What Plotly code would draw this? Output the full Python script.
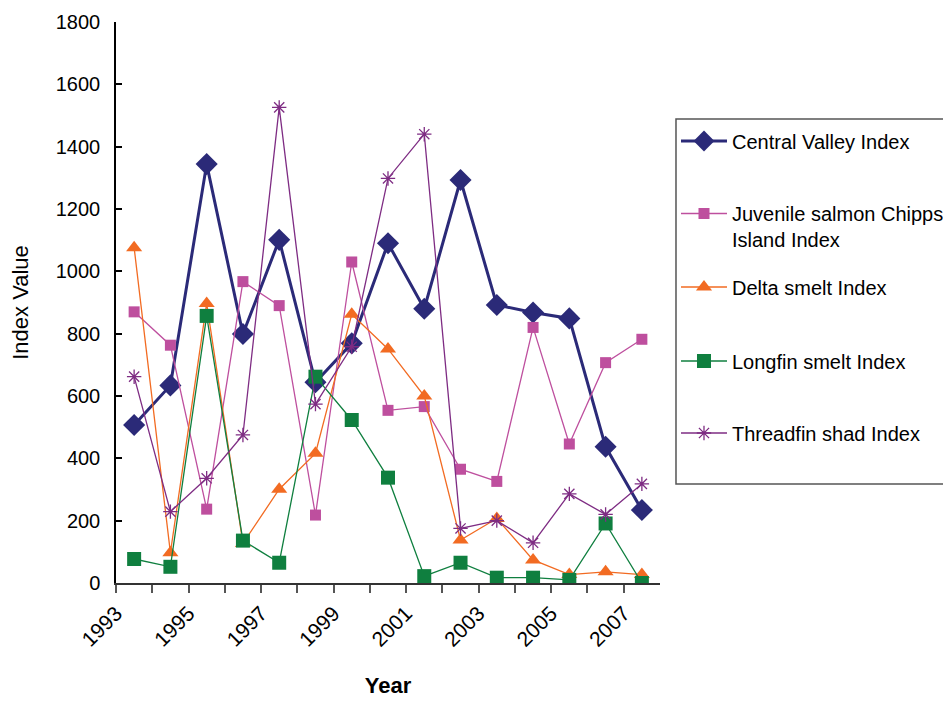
import plotly.graph_objects as go

years = list(range(1993, 2008))
central_valley = [507, 634, 1344, 799, 1101, 644, 769, 1090, 880, 1293, 892, 868, 849, 437, 234]
juvenile_salmon = [870, 763, 237, 967, 890, 218, 1030, 554, 566, 365, 326, 820, 446, 707, 782]
delta_smelt = [1076, 97, 897, 127, 301, 416, 862, 751, 600, 138, 207, 74, 27, 36, 27]
longfin_smelt = [77, 52, 857, 136, 65, 662, 523, 338, 22, 65, 17, 17, 10, 191, 0]
threadfin_shad = [662, 229, 336, 475, 1526, 574, 758, 1298, 1440, 175, 200, 129, 286, 220, 318]

tick_vals = [y - 0.5 for y in years]
tick_text = [str(y) if (y - 1993) % 2 == 0 else "" for y in years]

FONT = "Liberation Sans Narrow, Arial Narrow, Liberation Sans, Arial"

series = [
    ("Central Valley Index", central_valley, "#2B2A78", 3, "diamond", 17, None),
    ("Juvenile salmon Chipps<br>Island Index", juvenile_salmon, "#BE4F9E", 1.3, "square", 11, None),
    ("Delta smelt Index", delta_smelt, "#F26B22", 1.3, "triangle-up", 14, None),
    ("Longfin smelt Index", longfin_smelt, "#0F7F3F", 1.3, "square", 14, None),
    ("Threadfin shad Index", threadfin_shad, "#7E2C83", 1.3, "asterisk-open", 12, 1.3),
]
legend_ids = ["legend", "legend2", "legend3", "legend4", "legend5"]
legend_y = [0.7879, 0.6355, 0.5276, 0.3957, 0.2674]

fig = go.Figure()
for i, (name, vals, color, lw, sym, size, mlw) in enumerate(series):
    marker = dict(symbol=sym, size=size, color=color)
    marker["line"] = dict(color=color, width=mlw) if mlw else dict(width=0)
    fig.add_trace(go.Scatter(
        x=years, y=vals, name=name, mode="lines+markers",
        line=dict(color=color, width=lw), marker=marker,
        legend=legend_ids[i],
    ))

legend_layouts = {}
for lid, ly in zip(legend_ids, legend_y):
    legend_layouts[lid] = dict(
        x=1.0294, y=ly, xanchor="left", yanchor="middle",
        borderwidth=0, bgcolor="rgba(0,0,0,0)",
        font=dict(family=FONT, size=20, color="black"),
        valign="top", itemwidth=46,
    )

fig.update_layout(
    width=943, height=694,
    paper_bgcolor="white", plot_bgcolor="white",
    margin=dict(l=108, r=291, t=14, b=119, autoexpand=False),
    font=dict(family=FONT, size=20, color="black"),
    showlegend=True,
    shapes=[dict(type="rect", xref="paper", yref="paper",
                 x0=1.0294, x1=1.56, y0=0.1765, y1=0.8271,
                 line=dict(color="#555", width=1.5), fillcolor="rgba(0,0,0,0)")],
    xaxis=dict(
        range=[1992.5, 2007.5], tickmode="array", tickvals=tick_vals, ticktext=tick_text,
        tickangle=-45, ticks="outside", ticklen=8, tickcolor="#555", tickwidth=1.5,
        showline=True, linecolor="#333", linewidth=1.5, showgrid=False, zeroline=False,
        title=dict(text="<b>Year</b>", font=dict(family=FONT, size=22), standoff=28),
        tickfont=dict(family=FONT, size=21),
    ),
    yaxis=dict(
        range=[0, 1800], tickmode="array", tickvals=list(range(0, 1801, 200)),
        ticks="inside", ticklen=6, tickcolor="black", tickwidth=1.5,
        showline=True, linecolor="black", linewidth=1.5, showgrid=False, zeroline=False,
        ticklabelstandoff=10,
        title=dict(text="Index Value", font=dict(family=FONT, size=22), standoff=22),
        tickfont=dict(family=FONT, size=20),
    ),
    **legend_layouts,
)

fig.write_html("out.html")
